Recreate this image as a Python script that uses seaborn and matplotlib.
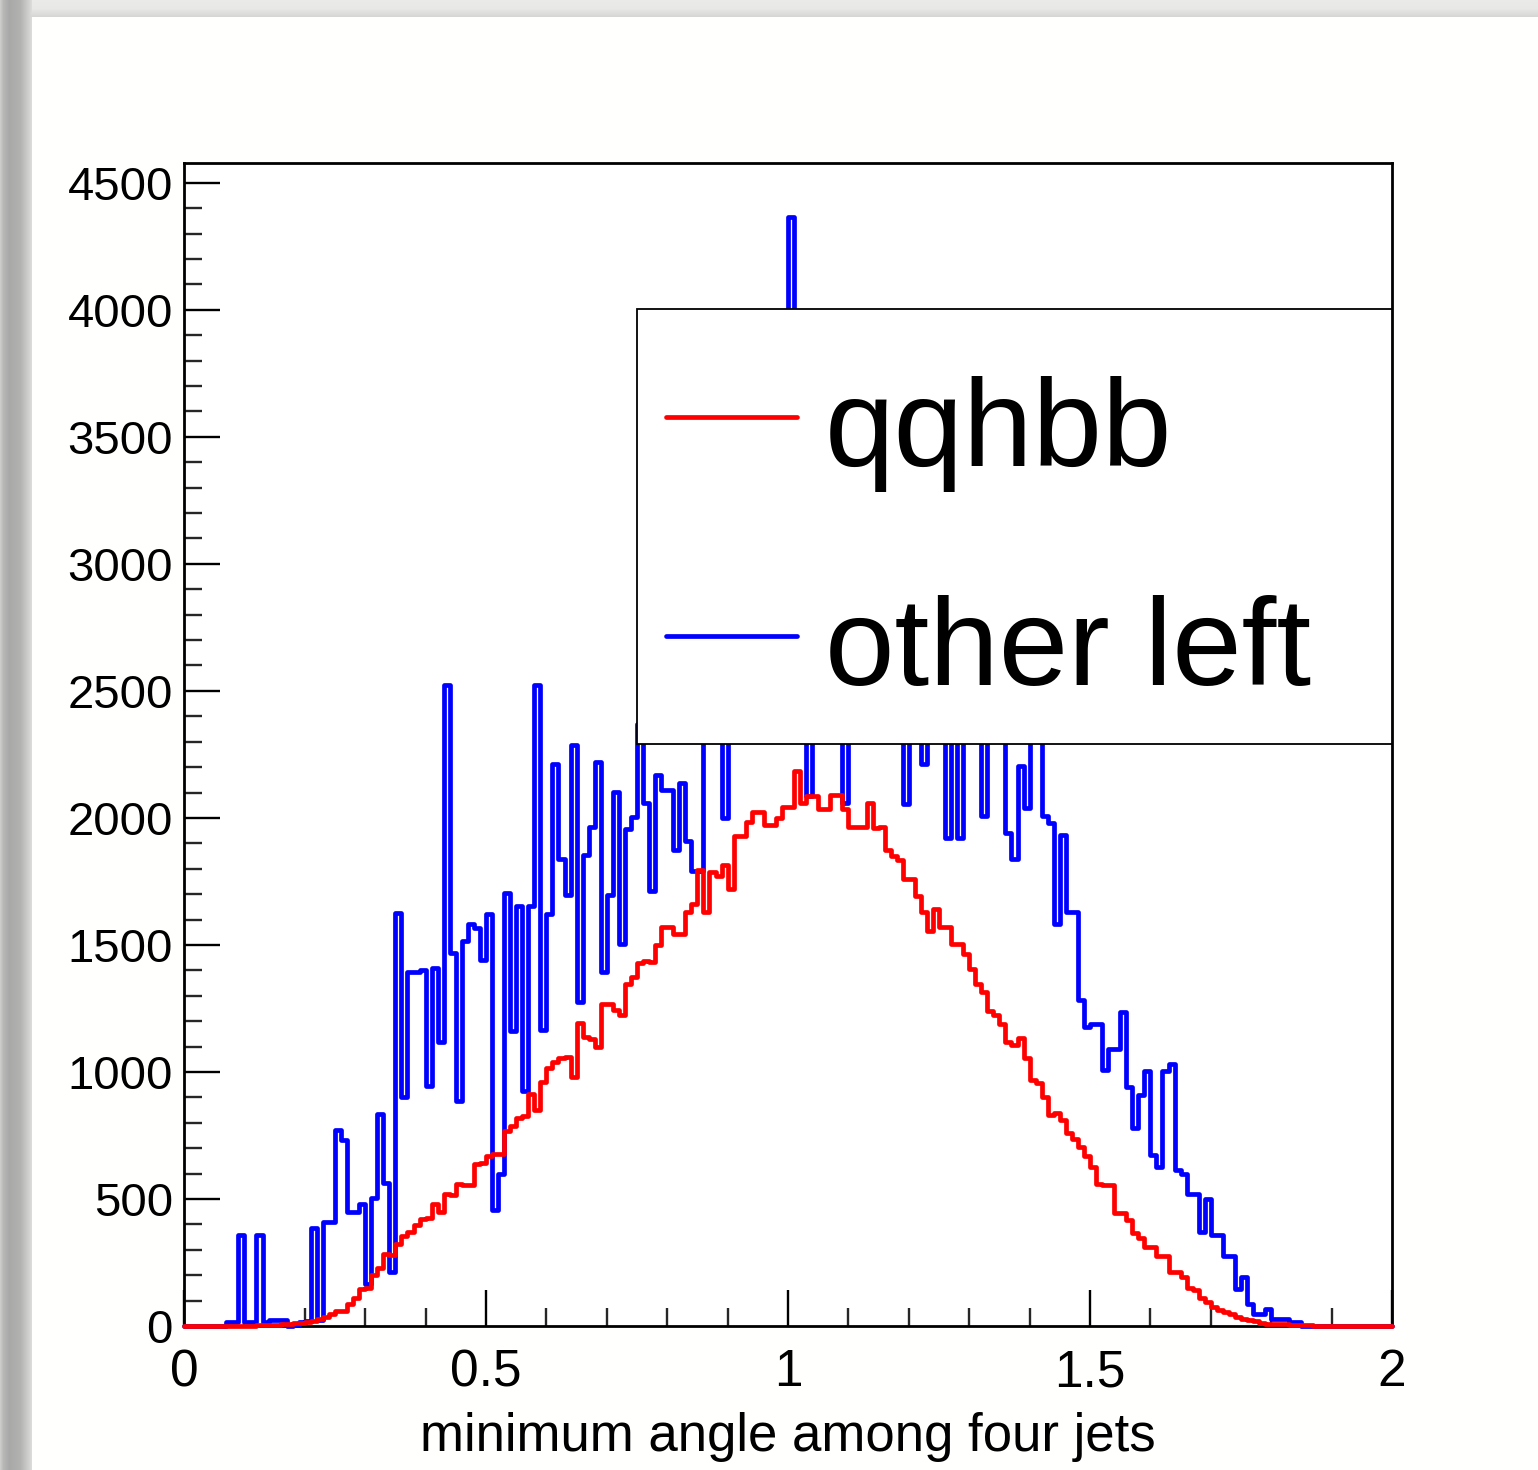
import numpy as np
import pandas as pd
import matplotlib
matplotlib.use("Agg")
import matplotlib.pyplot as plt
from matplotlib.patches import Rectangle
from matplotlib.lines import Line2D
from matplotlib.ticker import MultipleLocator, FixedLocator
import seaborn as sns

# ---- data: 200 bins of width 0.01 on [0, 2] ----
bin_edges = [round(0.01 * i, 2) for i in range(201)]

qqhbb_counts = [
    0, 0, 0, 0, 0, 0, 0, 0, 0, 0,
    1, 1, 2, 2, 3, 4, 6, 8, 10, 11,
    14, 20, 28, 35, 46, 59, 60, 85, 111, 144,
    150, 200, 228, 285, 280, 321, 354, 371, 396, 421,
    425, 480, 450, 520, 515, 560, 555, 555, 638, 640,
    668, 676, 676, 766, 789, 819, 825, 915, 850, 960,
    1014, 1040, 1053, 1058, 980, 1191, 1138, 1130, 1100, 1269,
    1269, 1243, 1223, 1348, 1374, 1427, 1435, 1433, 1501, 1569,
    1569, 1543, 1543, 1628, 1662, 1795, 1630, 1789, 1771, 1814,
    1720, 1928, 1928, 1985, 2022, 2022, 1971, 1971, 2000, 2043,
    2043, 2185, 2057, 2085, 2085, 2034, 2034, 2091, 2091, 2034,
    1966, 1966, 1966, 2057, 1960, 1965, 1875, 1850, 1833, 1760,
    1760, 1694, 1628, 1554, 1643, 1570, 1570, 1504, 1504, 1463,
    1406, 1348, 1315, 1241, 1225, 1188, 1118, 1105, 1135, 1055,
    968, 958, 900, 832, 840, 810, 760, 735, 705, 668,
    625, 560, 555, 555, 444, 444, 417, 365, 345, 312,
    312, 275, 275, 214, 214, 194, 150, 142, 110, 96,
    75, 62, 56, 48, 37, 26, 24, 18, 10, 8,
    8, 7, 6, 5, 4, 3, 2, 1, 0, 0,
    0, 0, 0, 0, 0, 0, 0, 0, 0, 0,
]

other_left_counts = [
    0, 0, 0, 0, 0, 0, 0, 15, 15, 360,
    15, 15, 360, 15, 25, 25, 25, 0, 5, 15,
    20, 385, 25, 411, 411, 770, 734, 450, 450, 480,
    165, 504, 836, 562, 213, 1624, 902, 1393, 1393, 1400,
    943, 1408, 1118, 2524, 1467, 885, 1515, 1583, 1567, 1440,
    1621, 456, 600, 1705, 1160, 1652, 925, 1652, 2524, 1165,
    1623, 2213, 1840, 1696, 2286, 1276, 1853, 1964, 2220, 1394,
    1696, 2102, 1505, 1958, 2004, 2370, 2060, 1713, 2170, 2110,
    2110, 1874, 2137, 1908, 1790, 1790, 2450, 2600, 2350, 2000,
    2500, 2400, 2650, 2380, 2550, 2450, 2700, 2400, 2500, 2600,
    4365, 2500, 2400, 2085, 2450, 2600, 2350, 2550, 2480, 2057,
    2400, 2650, 2500, 2420, 2580, 2450, 2380, 2520, 2400, 2056,
    2450, 2350, 2212, 2500, 2400, 2550, 1920, 2450, 1920, 2400,
    2600, 2350, 2006, 2500, 2380, 2420, 1940, 1837, 2204, 2040,
    2400, 2350, 2006, 1981, 1584, 1931, 1630, 1630, 1285, 1177,
    1190, 1190, 1007, 1092, 1092, 1237, 941, 778, 909, 1004,
    673, 627, 1004, 1033, 614, 600, 520, 520, 371, 500,
    358, 358, 275, 275, 145, 194, 85, 46, 46, 68,
    27, 27, 27, 17, 17, 0, 0, 0, 0, 0,
    0, 0, 0, 0, 0, 0, 0, 0, 0, 0,
]

series_labels = ["qqhbb", "other left"]
series_colors = ["#ff0000", "#0000ff"]
x_tick_values = [0, 0.5, 1, 1.5, 2]
x_tick_labels = ["0", "0.5", "1", "1.5", "2"]
y_tick_values = list(range(0, 4501, 500))
x_title = "minimum angle among four jets"

# ---- style ----
sns.set_theme(style="ticks")
plt.rcParams["font.family"] = ["Liberation Sans", "DejaVu Sans"]

W, H = 1538, 1470
fig = plt.figure(figsize=(W / 100, H / 100), dpi=100)

# page backdrop: grey border with a soft shadow around a white sheet
bg = np.ones((H, W))
xs = np.arange(W)
ys = np.arange(H)
left_shade = np.interp(xs, [0, 3, 9, 20, 27, 31, 32], [0.80, 0.72, 0.66, 0.70, 0.80, 0.86, 1.0])
top_shade = np.interp(ys, [0, 8, 13, 16, 17], [0.92, 0.91, 0.87, 0.84, 1.0])
bg = np.minimum(bg, np.where(xs[None, :] < 32, left_shade[None, :], 1.0))
bg = np.minimum(bg, np.where(ys[:, None] < 17, top_shade[:, None], 1.0))
bgax = fig.add_axes([0, 0, 1, 1], zorder=-10)
bgax.imshow(np.dstack([bg, bg, bg * 0.995]), aspect="auto", interpolation="bilinear")
bgax.axis("off")

ax = fig.add_axes([184 / W, 1 - 1326 / H, (1392 - 184) / W, (1326 - 163) / H])
ax.set_facecolor("white")

edges_arr = np.array(bin_edges)
centers = 0.5 * (edges_arr[:-1] + edges_arr[1:])
hist_df = pd.DataFrame({
    "angle": np.concatenate([centers, centers]),
    "count": np.concatenate([other_left_counts, qqhbb_counts]).astype(float),
    "sample": [series_labels[1]] * len(centers) + [series_labels[0]] * len(centers),
})
for label, color, z in [(series_labels[1], series_colors[1], 3),
                        (series_labels[0], series_colors[0], 4)]:
    sns.histplot(data=hist_df[hist_df["sample"] == label], x="angle", weights="count",
                 bins=bin_edges, element="step", fill=False, color=color,
                 linewidth=3.4, ax=ax, zorder=z, clip_on=False)

ax.set_xlim(0, 2)
ax.set_ylim(0, 4578)
ax.set_ylabel("")
ax.set_xlabel(x_title, fontsize=38, labelpad=11, color="black")

ax.xaxis.set_major_locator(FixedLocator(x_tick_values))
ax.set_xticklabels(x_tick_labels)
ax.xaxis.set_minor_locator(MultipleLocator(0.1))
ax.yaxis.set_major_locator(FixedLocator(y_tick_values))
ax.set_yticklabels([str(v) for v in y_tick_values])
ax.yaxis.set_minor_locator(MultipleLocator(100))

ax.tick_params(axis="both", which="major", direction="in", length=26, width=1.7,
               colors="black", top=False, right=False)
ax.tick_params(axis="both", which="minor", direction="in", length=13, width=1.7,
               top=False, right=False)
ax.tick_params(axis="y", which="major", pad=8, labelsize=34)
ax.tick_params(axis="x", which="major", pad=16, labelsize=37)
for side in ["left", "right", "top", "bottom"]:
    ax.spines[side].set_visible(True)
    ax.spines[side].set_color("black")
    ax.spines[side].set_linewidth(2.0)

# legend box
x0 = (637 - 184) / 1208
y0 = (1326 - 744) / 1163
y1 = (1326 - 309) / 1163
ax.add_patch(Rectangle((x0, y0), 1 - x0, y1 - y0, transform=ax.transAxes,
                       facecolor="white", edgecolor="black", linewidth=1.3,
                       zorder=10, clip_on=False))
entry_rows = [((1326 - 417) / 1163, (1326 - 466) / 1163),
              ((1326 - 636) / 1163, (1326 - 685) / 1163)]
for (line_y, text_y), label, color in zip(entry_rows, series_labels, series_colors):
    ax.add_line(Line2D([(666 - 184) / 1208, (797 - 184) / 1208], [line_y, line_y],
                       transform=ax.transAxes, color=color, linewidth=3.4,
                       zorder=11, clip_on=False))
    ax.text((825 - 184) / 1208, text_y, label, transform=ax.transAxes,
            fontsize=90, color="black", ha="left", va="baseline", zorder=11)

fig.savefig("out.png", dpi=100)
